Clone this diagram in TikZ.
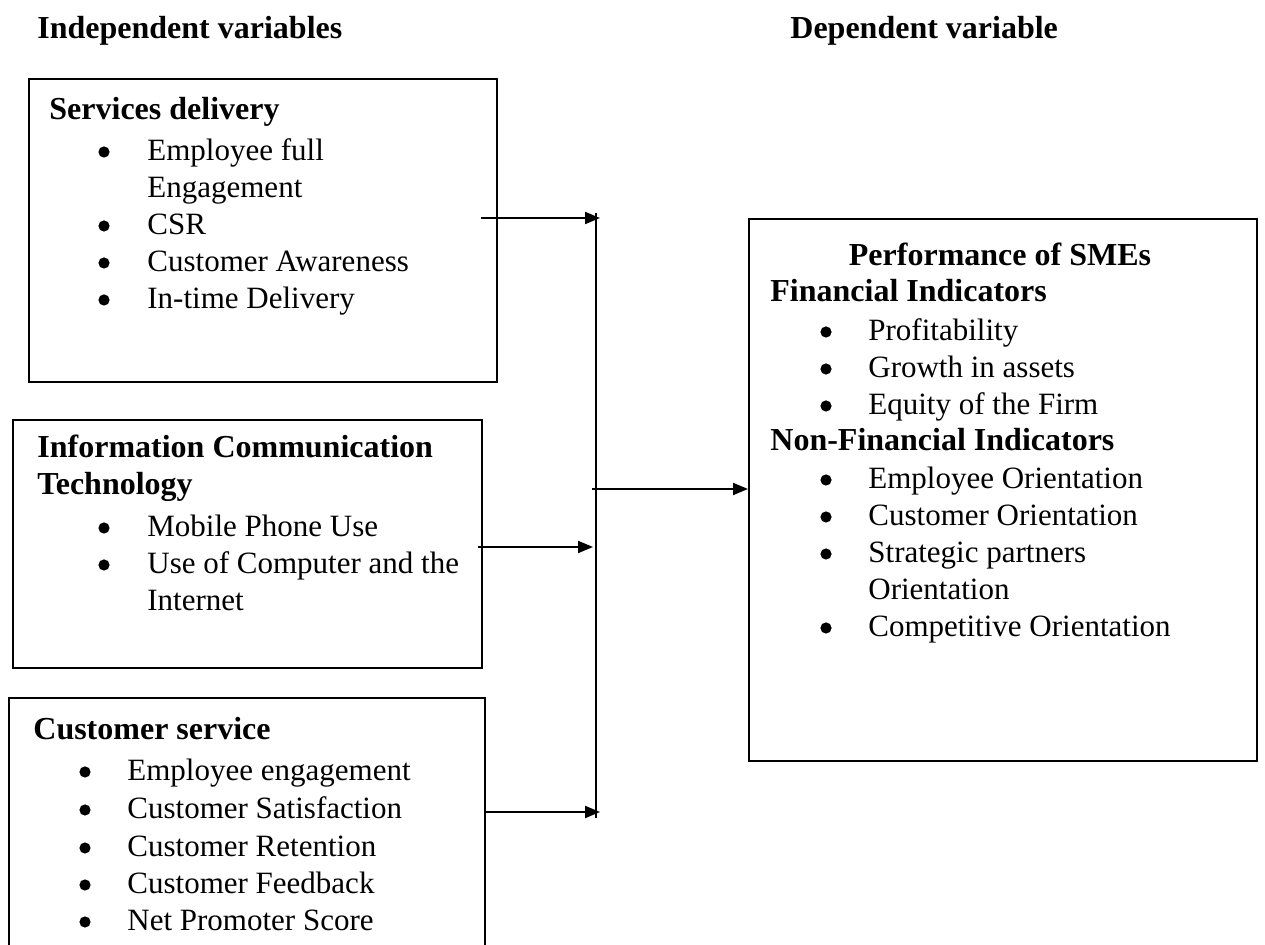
\documentclass[tikz,border=0pt]{standalone}
\usepackage{fontspec}
\setmainfont{Liberation Serif}
\usetikzlibrary{arrows.meta}

\tikzset{
  box/.style={draw, line width=0.9pt, anchor=north west, inner sep=0pt},
  head/.style={anchor=base west, inner sep=0pt, font=\fontsize{16}{18}\selectfont\bfseries},
  item/.style={anchor=base west, inner sep=0pt, font=\fontsize{15.5}{18}\selectfont},
  dot/.style={circle, fill, inner sep=0pt, minimum size=5.6pt},
  link/.style={line width=1pt, -{Triangle[length=7.5pt,width=6pt]}},
}

\begin{document}
\begin{tikzpicture}[x=0.5pt, y=-0.5pt]
	\useasboundingbox (0,0) rectangle (1265,945);
	% column titles
	\node[head] (indep) at (37,39) {Independent variables};
	\node[head] (dep) at (790,39) {Dependent variable};
	% boxes
	\node[box, minimum width=234pt, minimum height=151.5pt] (sd) at (28,78) {};
	\node[box, minimum width=234.5pt, minimum height=124pt] (ict) at (12,419) {};
	\node[inner sep=0pt, anchor=north west, minimum width=237.5pt, minimum height=123.5pt] (cs) at (9,698) {};
	\draw[line width=0.9pt] (cs.south west) |- (cs.north east) -- (cs.south east);
	\node[box, minimum width=254pt, minimum height=271pt] (perf) at (748,218) {};
	% Services delivery
	\node[head] (sdt) at (49,120) {Services delivery};
	\foreach \y in {161,235,272,309}
		\node[dot] at (104,\y-9) {};
	\foreach \txt/\y in {Employee full/161, Engagement/198, CSR/235, Customer Awareness/272, In-time Delivery/309}
		\node[item] at (147,\y) {\txt};
	% Information Communication Technology
	\node[head] (ictt) at (37,458) {Information Communication};
	\node[head] at (37,495) {Technology};
	\foreach \y in {537,574}
		\node[dot] at (104,\y-9) {};
	\foreach \txt/\y in {Mobile Phone Use/537, Use of Computer and the/574, Internet/611}
		\node[item] at (147,\y) {\txt};
	% Customer service
	\node[head] (cst) at (33,740) {Customer service};
	\foreach \txt/\y in {Employee engagement/781, Customer Satisfaction/819, Customer Retention/857, Customer Feedback/894, Net Promoter Score/931}{
		\node[dot] at (85,\y-9) {};
		\node[item] at (127,\y) {\txt};
	}
	% Performance of SMEs
	\node[head, anchor=base] (perft) at (1000,266) {Performance of SMEs};
	\node[head] at (770,302) {Financial Indicators};
	\node[head] at (770,451) {Non-Financial Indicators};
	\foreach \y in {341,378,415,489,526,563,637}
		\node[dot] at (826,\y-9) {};
	\foreach \txt/\y in {Profitability/341, Growth in assets/378, Equity of the Firm/415, Employee Orientation/489, Customer Orientation/526, Strategic partners/563, Orientation/600, Competitive Orientation/637}
		\node[item] at (868,\y) {\txt};
	% connectors
	\coordinate (bustop) at (596,213);
	\coordinate (busbot) at (596,818);
	\draw[line width=1pt] (bustop) -- (busbot);
	\coordinate (a1) at (481,218);
	\coordinate (a2) at (478,547);
	\coordinate (a3) at (484,812);
	\coordinate (a4) at (592,489);
	\draw[link] (a1) -- ([xshift=2pt]bustop |- a1);
	\draw[link] (a2) -- ([xshift=-1.5pt]bustop |- a2);
	\draw[link] (a3) -- ([xshift=2pt]bustop |- a3);
	\draw[link] (a4) -- (perf.west |- a4);
\end{tikzpicture}
\end{document}
